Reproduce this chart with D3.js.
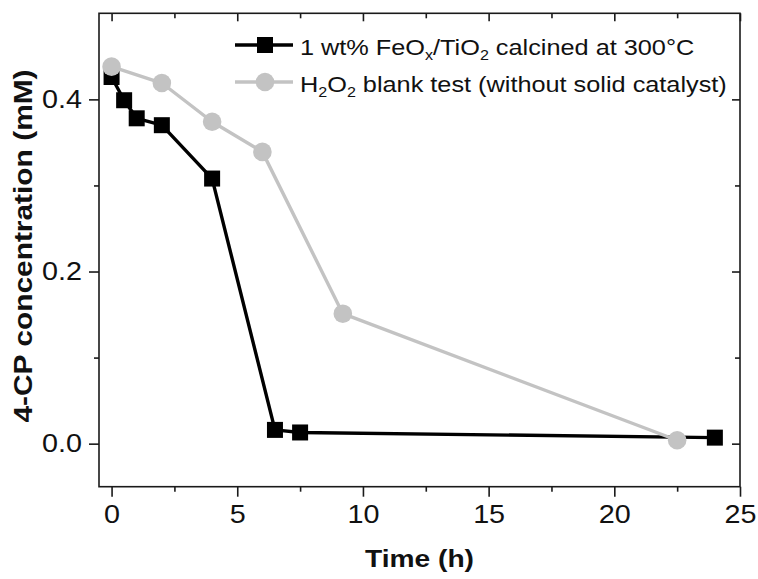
<!DOCTYPE html>
<html>
<head>
<meta charset="utf-8">
<script src="https://cdn.jsdelivr.net/npm/d3@7"></script>
<style>
  html, body { margin: 0; padding: 0; background: #fff; }
  svg { display: block; font-family: "Liberation Sans", Arial, sans-serif; }
</style>
</head>
<body>
<svg id="chart" width="758" height="579"></svg>
<script>
// ---------- data ----------
const catalystTime = [0, 0.5, 1, 2, 4, 6.5, 7.5, 24];
const catalystConc = [0.426, 0.399, 0.378, 0.370, 0.308, 0.016, 0.013, 0.007];
const blankTime = [0, 2, 4, 6, 9.2, 22.5];
const blankConc = [0.438, 0.419, 0.374, 0.339, 0.151, 0.004];

const xMajorTicks = [0, 5, 10, 15, 20, 25];
const xMinorTicks = [2.5, 7.5, 12.5, 17.5, 22.5];
const yMajorTicks = [0.0, 0.2, 0.4];
const yMinorTicks = [0.1, 0.3];

const xTitle = "Time (h)";
const yTitle = "4-CP concentration (mM)";

// ---------- layout ----------
const W = 758, H = 579;
const plot = { left: 99, right: 740, top: 13.3, bottom: 486.7 };
const STRETCH = 1.15;      // horizontal glyph stretch of the reference text
const TICK_FONT = 25;
const axisColor = "#1a1a1a";
const blackColor = "#000000";
const greyColor = "#c3c3c3";

const svg = d3.select("#chart");
svg.append("rect").attr("width", W).attr("height", H).attr("fill", "#fff");

const x = d3.scaleLinear().domain([-0.5, 25]).range([plot.left, plot.right]);
const y = d3.scaleLinear().domain([-0.05, 0.5]).range([plot.bottom, plot.top]);

function styleAxis(g) {
  g.select(".domain").remove();
  g.selectAll(".tick line").attr("stroke", axisColor).attr("stroke-width", 1.6);
  g.selectAll(".tick text")
    .attr("fill", "#111")
    .style("font-size", TICK_FONT + "px")
    .style("font-family", "'Liberation Sans', Arial, sans-serif")
    .each(function () {
      const t = d3.select(this);
      const xv = +t.attr("x") || 0;
      t.attr("x", xv / STRETCH).attr("transform", `scale(${STRETCH},1)`);
    });
}

// bottom axis (outward ticks)
svg.append("g")
  .attr("transform", `translate(0,${plot.bottom})`)
  .call(d3.axisBottom(x).tickValues(xMajorTicks).tickSize(10).tickPadding(9).tickFormat(d3.format("d")))
  .call(styleAxis);
svg.append("g")
  .attr("transform", `translate(0,${plot.bottom})`)
  .call(d3.axisBottom(x).tickValues(xMinorTicks).tickSize(5).tickFormat(""))
  .call(styleAxis);

// left axis (outward ticks)
svg.append("g")
  .attr("transform", `translate(${plot.left},0)`)
  .call(d3.axisLeft(y).tickValues(yMajorTicks).tickSize(10).tickPadding(7).tickFormat(d3.format(".1f")))
  .call(styleAxis);
svg.append("g")
  .attr("transform", `translate(${plot.left},0)`)
  .call(d3.axisLeft(y).tickValues(yMinorTicks).tickSize(5).tickFormat(""))
  .call(styleAxis);

// top axis (inward ticks)
svg.append("g")
  .attr("transform", `translate(0,${plot.top})`)
  .call(d3.axisTop(x).tickValues(xMajorTicks).tickSizeInner(-8).tickSizeOuter(0).tickFormat(""))
  .call(styleAxis);
svg.append("g")
  .attr("transform", `translate(0,${plot.top})`)
  .call(d3.axisTop(x).tickValues(xMinorTicks).tickSizeInner(-5).tickSizeOuter(0).tickFormat(""))
  .call(styleAxis);

// right axis (inward ticks)
svg.append("g")
  .attr("transform", `translate(${plot.right},0)`)
  .call(d3.axisRight(y).tickValues(yMajorTicks).tickSizeInner(-8).tickSizeOuter(0).tickFormat(""))
  .call(styleAxis);
svg.append("g")
  .attr("transform", `translate(${plot.right},0)`)
  .call(d3.axisRight(y).tickValues(yMinorTicks).tickSizeInner(-5).tickSizeOuter(0).tickFormat(""))
  .call(styleAxis);

// frame
svg.append("rect")
  .attr("x", plot.left).attr("y", plot.top)
  .attr("width", plot.right - plot.left).attr("height", plot.bottom - plot.top)
  .attr("fill", "none").attr("stroke", axisColor).attr("stroke-width", 1.6);

// axis titles
svg.append("text")
  .attr("transform", `translate(${(plot.left + plot.right) / 2},566.5) scale(${STRETCH},1)`)
  .attr("text-anchor", "middle")
  .style("font-size", "24.5px").style("font-weight", "bold").attr("fill", "#111")
  .text(xTitle);

svg.append("text")
  .attr("transform", `translate(32,246) rotate(-90) scale(${STRETCH},1)`)
  .attr("text-anchor", "middle")
  .style("font-size", "26px").style("font-weight", "bold").attr("fill", "#111")
  .text(yTitle);

// ---------- series ----------
const catalyst = catalystTime.map((t, i) => ({ t, c: catalystConc[i] }));
const blank = blankTime.map((t, i) => ({ t, c: blankConc[i] }));
const line = d3.line().x(d => x(d.t)).y(d => y(d.c));
const SQ = 16, R = 9.3, LW = 3.4;

const gCat = svg.append("g");
gCat.append("path").datum(catalyst).attr("d", line)
  .attr("fill", "none").attr("stroke", blackColor).attr("stroke-width", LW).attr("stroke-linejoin", "round");
gCat.selectAll("rect").data(catalyst).join("rect")
  .attr("x", d => x(d.t) - SQ / 2).attr("y", d => y(d.c) - SQ / 2)
  .attr("width", SQ).attr("height", SQ).attr("fill", blackColor);

const gBlank = svg.append("g");
gBlank.append("path").datum(blank).attr("d", line)
  .attr("fill", "none").attr("stroke", greyColor).attr("stroke-width", LW).attr("stroke-linejoin", "round");
gBlank.selectAll("circle").data(blank).join("circle")
  .attr("cx", d => x(d.t)).attr("cy", d => y(d.c)).attr("r", R).attr("fill", greyColor);

// ---------- legend ----------
const legend = svg.append("g");
const lgX0 = 235, lgX1 = 293, lgXm = 265;
// row 1
legend.append("line").attr("x1", lgX0).attr("x2", lgX1).attr("y1", 45).attr("y2", 45)
  .attr("stroke", blackColor).attr("stroke-width", LW);
legend.append("rect").attr("x", lgXm - SQ / 2).attr("y", 45 - SQ / 2).attr("width", SQ).attr("height", SQ).attr("fill", blackColor);
const t1 = legend.append("text")
  .attr("transform", `translate(300,55) scale(${STRETCH},1)`)
  .style("font-size", "22px").attr("fill", "#111");
t1.append("tspan").text("1 wt% FeO");
t1.append("tspan").attr("dy", 5).style("font-size", "14px").text("x");
t1.append("tspan").attr("dy", -5).text("/TiO");
t1.append("tspan").attr("dy", 5).style("font-size", "14px").text("2");
t1.append("tspan").attr("dy", -5).text(" calcined at 300°C");

// row 2
legend.append("line").attr("x1", lgX0).attr("x2", lgX1).attr("y1", 82).attr("y2", 82)
  .attr("stroke", greyColor).attr("stroke-width", LW);
legend.append("circle").attr("cx", lgXm).attr("cy", 82).attr("r", R).attr("fill", greyColor);
const t2 = legend.append("text")
  .attr("transform", `translate(300,92) scale(${STRETCH},1)`)
  .style("font-size", "22px").attr("fill", "#111");
t2.append("tspan").text("H");
t2.append("tspan").attr("dy", 5).style("font-size", "14px").text("2");
t2.append("tspan").attr("dy", -5).text("O");
t2.append("tspan").attr("dy", 5).style("font-size", "14px").text("2");
t2.append("tspan").attr("dy", -5).text(" blank test (without solid catalyst)");
</script>
</body>
</html>
